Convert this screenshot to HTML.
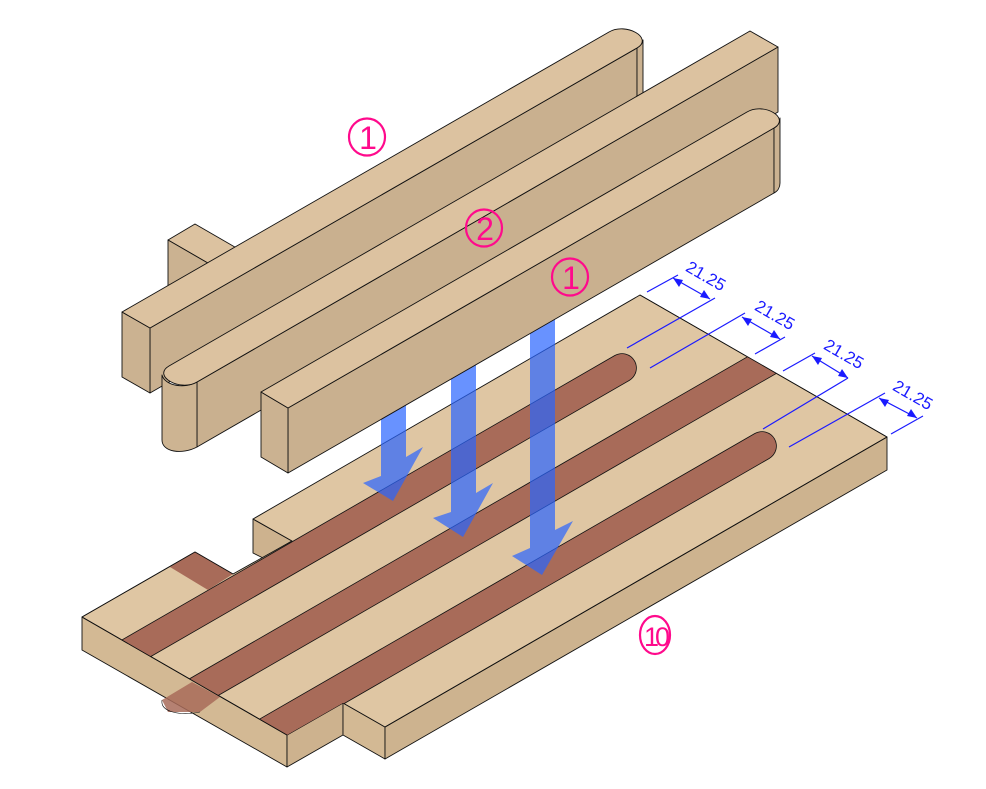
<!DOCTYPE html>
<html><head><meta charset="utf-8"><style>
html,body{margin:0;padding:0;background:#fff;}
svg{display:block;}
</style></head><body>
<svg width="986" height="789" viewBox="0 0 986 789" xmlns="http://www.w3.org/2000/svg">
<defs>
<clipPath id="topclip"><polygon points="640,295 887,437 385,727 343,703 287,735 82,617 195,552 233,574 292,541 253,519"/></clipPath>
</defs>
<g stroke="#111" stroke-width="0.9" stroke-linejoin="round">
<!-- Board -->
<polygon points="82,617 287,735 287,767 82,650" fill="#d3b994"/>
<polygon points="287,735 343,703 343,735 287,767" fill="#cdb28e"/>
<polygon points="343,703 385,727 385,759 343,735" fill="#d3b994"/>
<polygon points="385,727 887,437 887,470 385,759" fill="#cdb38f"/>
<polygon points="253,519 292,541 263,558 253,553" fill="#cdb28e"/>
<polygon points="640,295 887,437 385,727 343,703 287,735 82,617 195,552 233,574 292,541 253,519" fill="#dfc6a3"/>
</g>
<g clip-path="url(#topclip)">
<line x1="90" y1="675" x2="622" y2="368" stroke="#111" stroke-width="29.6" stroke-linecap="round"/>
<line x1="90" y1="675" x2="622" y2="368" stroke="#a86b59" stroke-width="28" stroke-linecap="round"/>
<line x1="140" y1="724" x2="795" y2="346" stroke="#111" stroke-width="29.6"/>
<line x1="140" y1="724" x2="795" y2="346" stroke="#a86b59" stroke-width="28"/>
<line x1="240" y1="747" x2="762" y2="446" stroke="#111" stroke-width="29.6" stroke-linecap="round"/>
<line x1="240" y1="747" x2="762" y2="446" stroke="#a86b59" stroke-width="28" stroke-linecap="round"/>
</g>
<polygon points="170,567 195,552 233,574 208,590" fill="#a86b59"/>
<polygon points="192,682 220,697 200,712 168,712 162,700" fill="#a86b59" opacity="0.85"/>
<g stroke="#111" stroke-width="0.8" fill="none">
<line x1="82" y1="617" x2="195" y2="552"/>
<line x1="195" y1="552" x2="233" y2="574"/>
<line x1="640" y1="295" x2="887" y2="437"/>
<line x1="385" y1="727" x2="887" y2="437"/>
<line x1="82" y1="617" x2="287" y2="735"/>
<path d="M162,700 C160,712 180,716 200,712" stroke-width="0.6"/>
</g>
<!-- Arrows -->
<g fill="rgb(40,100,255)" fill-opacity="0.7">
<polygon points="381,395 406,395 406,457 423,447 393,501 363,483 381,476"/>
<polygon points="451,350 476,350 476,493 493,483 463,537 433,518 451,512"/>
<polygon points="530,300 555,300 555,530 573,521 542,575 512,556 530,548"/>
</g>
<!-- Rails -->
<g stroke="#111" stroke-width="0.9" stroke-linejoin="round">
<polygon points="168,240 195,224 240,250 213,266" fill="#dcc2a0"/>
<polygon points="168,240 213,266 213,330 168,304" fill="#cbb291"/>
<!-- Rail A -->
<polygon points="150,328 637,48 637,113 150,393" fill="#c9b08f"/>
<path d="M637,48 Q643,44 643,40 L643,105 Q643,109 637,113 Z" fill="#cbb291"/>
<polygon points="122,312 150,328 150,393 122,377" fill="#cbb291"/>
<path d="M150,328 L637,48 C654,38 626,22 609,32 L122,312 Z" fill="#dcc2a0"/>
<!-- Rail B -->
<polygon points="197,382 778,47 778,112 197,447" fill="#c9b08f"/>
<path d="M197,382 L197,447 C182,455 162,452 162,440 L162,375 C165,386 185,389 197,382 Z" fill="#cdb492"/>
<path d="M197,382 L778,47 L750,31 L169,366 C152,376 180,392 197,382 Z" fill="#dcc2a0"/>
<!-- Rail C -->
<polygon points="288,408 774,128 774,193 288,473" fill="#c9b08f"/>
<path d="M774,128 C778,126 780,122 780,118 L780,183 C780,187 778,191 774,193 Z" fill="#cbb291"/>
<polygon points="261,392 288,408 288,473 261,457" fill="#cbb291"/>
<path d="M288,408 L774,128 C791,118 764,102 747,112 L261,392 Z" fill="#dcc2a0"/>
</g>
<!-- Dimensions -->
<g stroke="#1a1aff" stroke-width="1.2">
<line x1="647" y1="292" x2="678" y2="275"/>
<line x1="627" y1="348" x2="715" y2="298"/>
<line x1="650" y1="368" x2="745" y2="313"/>
<line x1="755" y1="354" x2="785" y2="337"/>
<line x1="783" y1="371" x2="815" y2="353"/>
<line x1="763" y1="429" x2="848" y2="378"/>
<line x1="789" y1="447" x2="885" y2="393"/>
<line x1="891" y1="434" x2="923" y2="416"/>
<line x1="673" y1="278" x2="710" y2="299"/>
<line x1="742" y1="317" x2="780" y2="339"/>
<line x1="812" y1="356" x2="848" y2="378"/>
<line x1="879" y1="398" x2="917" y2="418"/>
</g>
<g fill="#1a1aff">
<polygon points="673,278 683,280 679,287"/><polygon points="710,299 700,297 704,290"/>
<polygon points="742,317 752,319 748,326"/><polygon points="780,339 770,337 774,330"/>
<polygon points="812,356 822,358 818,365"/><polygon points="848,378 838,376 842,369"/>
<polygon points="879,398 889,400 885,407"/><polygon points="917,418 907,416 911,409"/>
</g>
<g font-family="Liberation Sans, sans-serif" font-size="17" fill="#1a1aff" text-anchor="middle">
<text transform="translate(703,281) rotate(30)">21.25</text>
<text transform="translate(772,320) rotate(30)">21.25</text>
<text transform="translate(841,359) rotate(30)">21.25</text>
<text transform="translate(910,400) rotate(30)">21.25</text>
</g>
<!-- Labels -->
<g stroke="#ff0a8c" stroke-width="2.2" fill="none">
<ellipse cx="367" cy="137" rx="18" ry="18.5"/>
<ellipse cx="484" cy="228" rx="18" ry="18.5"/>
<ellipse cx="570" cy="277" rx="18" ry="18.5"/>
<ellipse cx="655" cy="635" rx="15" ry="19"/>
</g>
<g font-family="Liberation Sans, sans-serif" font-size="32" fill="#ff0a8c" text-anchor="middle">
<text x="368" y="149">1</text>
<text x="485" y="240">2</text>
<text x="571" y="289">1</text>
<text x="655" y="646" font-size="27" letter-spacing="-4">10</text>
</g>
</svg>
</body></html>
